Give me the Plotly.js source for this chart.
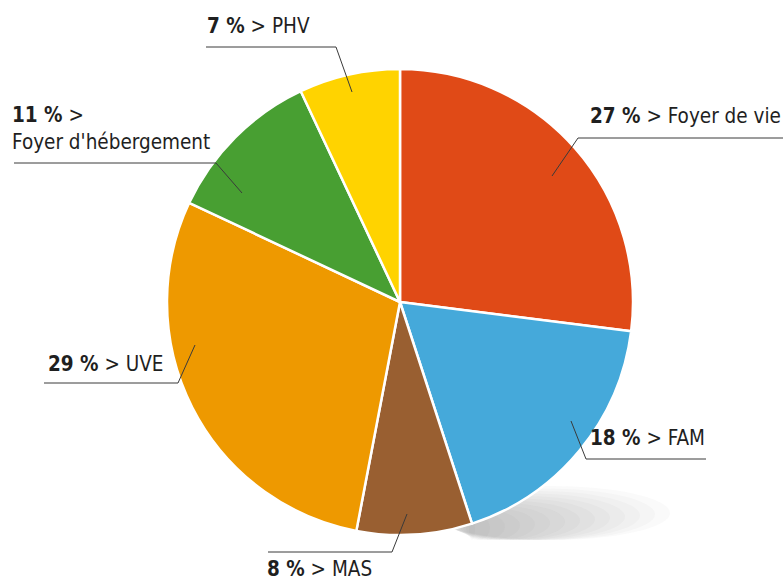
<!DOCTYPE html>
<html>
<head>
<meta charset="utf-8">
<script src="https://cdn.plot.ly/plotly-3.0.1.min.js"></script>
<style>
  html, body { margin: 0; padding: 0; background: #fff; }
  #chart { width: 783px; height: 580px; }
</style>
</head>
<body>
<div id="chart"></div>
<script>
// Data (clockwise from 12 o'clock)
const categories = ['Foyer de vie', 'FAM', 'MAS', 'UVE', "Foyer d'hébergement", 'PHV'];
const shares = [27, 18, 8, 29, 11, 7];
const sliceColors = ['#E04A17', '#45A9DA', '#995F31', '#EE9900', '#489F32', '#FFD300'];

const W = 783, H = 580;
const px = (x, y) => [x / W, 1 - y / H];

// Label placement in pixels: inner point, elbow, end of the horizontal rule, text anchor
const callouts = [
    { inner: [552, 176], elbow: [578, 138], end: [783, 138], tx: 783, ty: 116, anchor: 'right' },
    { inner: [571, 421], elbow: [586, 459], end: [706, 459], tx: 707, ty: 438, anchor: 'right' },
    { inner: [407, 514], elbow: [392, 552], end: [268, 552], tx: 265, ty: 569, anchor: 'left' },
    { inner: [195, 345], elbow: [178, 383], end: [44, 383], tx: 46, ty: 364, anchor: 'left' },
    { inner: [242, 193], elbow: [216, 163], end: [14, 163], tx: 10, ty: 129, anchor: 'left', wrap: true },
    { inner: [352, 92], elbow: [336, 47], end: [206, 47], tx: 205, ty: 26, anchor: 'left' }
];

const cx = 400, cy = 302, r = 233;

const trace = {
    type: 'pie',
    values: shares,
    labels: categories,
    marker: { colors: sliceColors, line: { color: '#ffffff', width: 2.5 } },
    sort: false,
    direction: 'clockwise',
    rotation: 0,
    textinfo: 'none',
    hoverinfo: 'none',
    showlegend: false,
    automargin: false,
    domain: {
        x: [(cx - r) / W, (cx + r) / W],
        y: [1 - (cy + r) / H, 1 - (cy - r) / H]
    }
};

const shapes = [];
// soft shadow under the pie, bottom right: stacked faint ellipses, darker near the pie
for (let k = 0; k < 14; k++) {
    const right = 670 - k * 15;
    const top = 486 + k * 2.5;
    const a = px(430 + k * 3, 540), b = px(right, top);
    shapes.push({
        type: 'circle', xref: 'paper', yref: 'paper', layer: 'below',
        x0: a[0], y0: a[1], x1: b[0], y1: b[1],
        fillcolor: 'rgba(95,98,105,0.03)', line: { width: 0 }
    });
}

const annotations = [];
callouts.forEach((c, i) => {
    const p1 = px(...c.inner), p2 = px(...c.elbow), p3 = px(...c.end);
    shapes.push({
        type: 'path', xref: 'paper', yref: 'paper',
        path: `M ${p1[0]},${p1[1]} L ${p2[0]},${p2[1]} L ${p3[0]},${p3[1]}`,
        line: { color: '#3a3a3a', width: 1 }
    });
    const pct = `<b>${shares[i]} %</b> >`;
    const t = px(c.tx, c.ty);
    annotations.push({
        xref: 'paper', yref: 'paper', x: t[0], y: t[1],
        xanchor: c.anchor, yanchor: 'middle', align: 'left',
        showarrow: false,
        text: c.wrap ? `${pct}<br>${categories[i]}` : `${pct} ${categories[i]}`,
        font: { family: '"DejaVu Sans Condensed", sans-serif', size: 20.5, color: '#1f1f1f' }
    });
});

const layout = {
    width: W,
    height: H,
    margin: { l: 0, r: 0, t: 0, b: 0 },
    paper_bgcolor: '#ffffff',
    plot_bgcolor: '#ffffff',
    shapes: shapes,
    annotations: annotations
};

Plotly.newPlot('chart', [trace], layout, { displayModeBar: false, staticPlot: true });
</script>
</body>
</html>
